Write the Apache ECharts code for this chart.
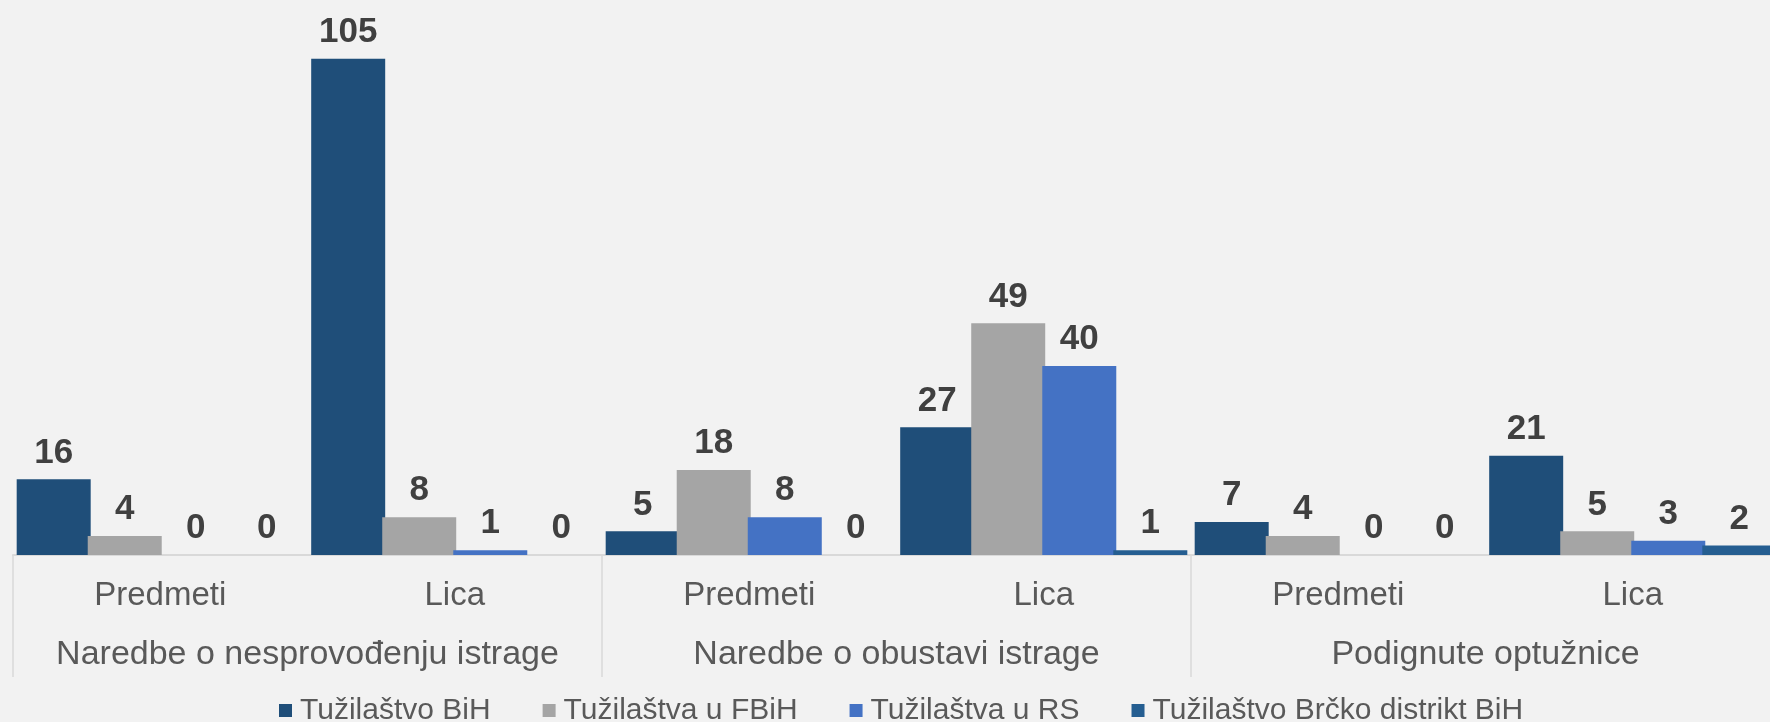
<!DOCTYPE html>
<html>
<head>
<meta charset="utf-8">
<script src="https://cdn.jsdelivr.net/npm/echarts@6/dist/echarts.min.js"></script>
<style>
  html, body { margin: 0; padding: 0; background: #f2f2f2; }
  #chart { width: 1770px; height: 722px; }
</style>
</head>
<body>
<div id="chart"></div>
<script>
/* data */
var subCats = ['Predmeti', 'Lica', 'Predmeti', 'Lica', 'Predmeti', 'Lica'];
var groups = ['Naredbe o nesprovođenju istrage', 'Naredbe o obustavi istrage', 'Podignute optužnice'];
var seriesNames = ['Tužilaštvo BiH', 'Tužilaštva u FBiH', 'Tužilaštva u RS', 'Tužilaštvo Brčko distrikt BiH'];
var tuzBih = [16, 105, 5, 27, 7, 21];
var tuzFbih = [4, 8, 18, 49, 4, 5];
var tuzRs = [0, 1, 8, 40, 0, 3];
var tuzBrcko = [0, 0, 0, 1, 0, 2];
var colors = ['#1f4e79', '#a5a5a5', '#4472c4', '#255e91'];

var font = '"Liberation Sans", Arial, sans-serif';

function makeSeries(name, data, i) {
  return {
    name: name,
    type: 'bar',
    data: data,
    barWidth: 74,
    barGap: '-4%',
    itemStyle: { color: colors[i] },
    label: {
      show: true,
      position: 'top',
      distance: 9,
      fontFamily: font,
      fontSize: 35,
      lineHeight: 35,
      fontWeight: 'bold',
      color: '#404040'
    }
  };
}

var option = {
  backgroundColor: '#f2f2f2',
  animation: false,
  grid: {
    left: 13,
    top: 35,
    width: 1767,
    height: 520,
    outerBoundsMode: 'none',
    containLabel: false
  },
  legend: {
    left: 274,
    top: 690,
    icon: 'rect',
    itemWidth: 13,
    itemHeight: 13,
    itemGap: 52,
    textStyle: { fontFamily: font, fontSize: 30, lineHeight: 31, color: '#595959', padding: [0, 0, 0, 3] },
    data: seriesNames
  },
  xAxis: [
    {
      type: 'category',
      data: subCats,
      axisLine: { lineStyle: { color: '#d9d9d9', width: 2 } },
      axisTick: { show: false },
      axisLabel: { interval: 0, fontFamily: font, fontSize: 33, lineHeight: 33, color: '#595959', margin: 24 }
    },
    {
      type: 'category',
      data: groups,
      position: 'bottom',
      axisLine: { show: false },
      axisTick: { show: true, interval: 0, length: 122, lineStyle: { color: '#d9d9d9', width: 1.5 } },
      axisLabel: { interval: 0, fontFamily: font, fontSize: 34, lineHeight: 34, color: '#595959', margin: 83 }
    }
  ],
  yAxis: {
    type: 'value',
    min: 0,
    max: 110,
    show: false,
    splitLine: { show: false }
  },
  series: [
    makeSeries(seriesNames[0], tuzBih, 0),
    makeSeries(seriesNames[1], tuzFbih, 1),
    makeSeries(seriesNames[2], tuzRs, 2),
    makeSeries(seriesNames[3], tuzBrcko, 3)
  ]
};

var chart = echarts.init(document.getElementById('chart'));
chart.setOption(option);
</script>
</body>
</html>
